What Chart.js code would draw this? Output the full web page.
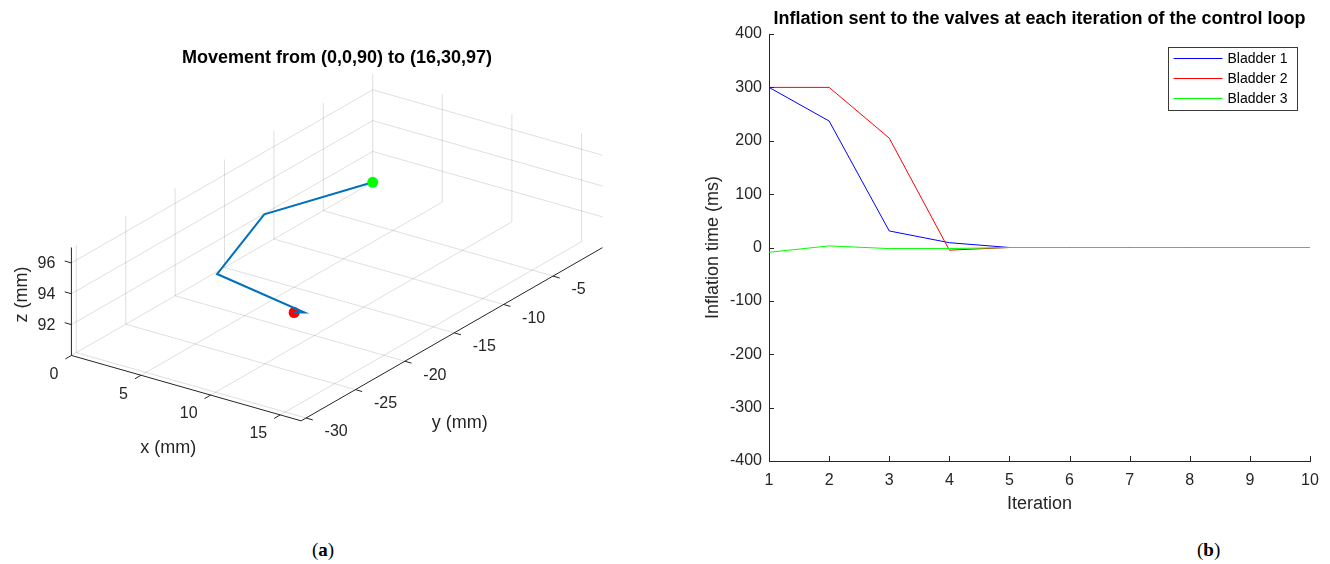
<!DOCTYPE html>
<html><head><meta charset="utf-8">
<script src="https://cdn.jsdelivr.net/npm/chart.js@4.4.1/dist/chart.umd.min.js"></script>
<style>
html,body{margin:0;padding:0;background:#fff;width:1330px;height:564px;overflow:hidden;position:relative;}
#c3d{position:absolute;left:0;top:0;}
#c2d{position:absolute;left:690px;top:0;}
.cap{position:absolute;top:539px;font-family:"Liberation Serif","DejaVu Serif",serif;font-size:19px;line-height:22px;color:#000;}
</style></head><body>
<canvas id="c3d" width="680" height="520"></canvas>
<canvas id="c2d" width="640" height="530"></canvas>
<div class="cap" style="left:312px">(<b>a</b>)</div>
<div class="cap" style="left:1197px">(<b>b</b>)</div>
<script>
// ---------- data: (a) 3D movement ----------
const xLimits = [0, 16.5];
const yLimits = [-30.5, 0];
const zLimits = [90, 97];
const xTicks = [0, 5, 10, 15];
const yTicks = [-30, -25, -20, -15, -10, -5];
const zTicks = [92, 94, 96];
const pathX = [0, 2.5, 8.05, 16.5, 16];
const pathY = [0, -14.5, -27.1, -30.15, -30.5];
const pathZ = [90, 93.9, 96.1, 96.9, 96.9];
const startPoint = [0, 0, 90];
const targetPoint = [16, -30.5, 96.9];
const title3d = 'Movement from (0,0,90) to (16,30,97)';

// ---------- data: (b) inflation ----------
const iterations = [1, 2, 3, 4, 5, 6, 7, 8, 9, 10];
const bladder1 = [300, 237, 31, 9, 0, 0, 0, 0, 0, 0];
const bladder2 = [300, 300, 205, -5, 0, 0, 0, 0, 0, 0];
const bladder3 = [-9, 3, -2, -2, 0, 0, 0, 0, 0, 0];
const seriesLabels = ['Bladder 1', 'Bladder 2', 'Bladder 3'];
const title2d = 'Inflation sent to the valves at each iteration of the control loop';

const FONT = '"Liberation Sans", Arial, Helvetica, sans-serif';
Chart.defaults.font.family = FONT;
const TXT = '#262626';

// ---------- 3D projection (view) ----------
const VIEW = { o: [67, 357.5], ex: [14.15, 4.05], ey: [10.04, -5.8], ez: [0, -15.75] };
function proj(x, y, z) {
  const dx = x - xLimits[0], dy = y - yLimits[0], dz = z - zLimits[0];
  return {
    x: VIEW.o[0] + dx * VIEW.ex[0] + dy * VIEW.ey[0] + dz * VIEW.ez[0],
    y: VIEW.o[1] + dx * VIEW.ex[1] + dy * VIEW.ey[1] + dz * VIEW.ez[1]
  };
}

const box3d = {
  id: 'box3d',
  beforeDatasetsDraw(chart) {
    const ctx = chart.ctx, sx = chart.scales.x, sy = chart.scales.y;
    const P = (x, y, z) => { const p = proj(x, y, z); return [sx.getPixelForValue(p.x), sy.getPixelForValue(p.y)]; };
    const seg = (a, b) => { ctx.beginPath(); ctx.moveTo(a[0], a[1]); ctx.lineTo(b[0], b[1]); ctx.stroke(); };
    const [x0, x1] = xLimits, [y0, y1] = yLimits, [z0, z1] = zLimits;
    ctx.save();
    // grid
    ctx.strokeStyle = 'rgba(38,38,38,0.15)';
    ctx.lineWidth = 1;
    xTicks.forEach(t => { seg(P(t, y0, z0), P(t, y1, z0)); seg(P(t, y1, z0), P(t, y1, z1)); });
    yTicks.forEach(t => { seg(P(x0, t, z0), P(x1, t, z0)); seg(P(x0, t, z0), P(x0, t, z1)); });
    zTicks.forEach(t => { seg(P(x0, y0, t), P(x0, y1, t)); seg(P(x0, y1, t), P(x1, y1, t)); });
    // axes
    ctx.strokeStyle = TXT;
    seg(P(x0, y0, z0), P(x1, y0, z0));
    seg(P(x1, y0, z0), P(x1, y1, z0));
    seg(P(x0, y0, z0), P(x0, y0, z1));
    // ticks (outward)
    const TL = 7;
    const unit = v => { const l = Math.hypot(v[0], v[1]); return [v[0] / l, v[1] / l]; };
    const ux = unit(VIEW.ex), uy = unit(VIEW.ey);
    xTicks.forEach(t => { const a = P(t, y0, z0); seg(a, [a[0] - uy[0] * TL, a[1] - uy[1] * TL]); });
    yTicks.forEach(t => { const a = P(x1, t, z0); seg(a, [a[0] + ux[0] * TL, a[1] + ux[1] * TL]); });
    zTicks.forEach(t => { const a = P(x0, y0, t); seg(a, [a[0] - ux[0] * TL, a[1] - ux[1] * TL]); });
    // tick labels
    ctx.fillStyle = TXT;
    ctx.font = '16px ' + FONT;
    ctx.textBaseline = 'middle';
    ctx.textAlign = 'right';
    xTicks.forEach(t => { const a = P(t, y0, z0); ctx.fillText(String(t), a[0] - 13, a[1] + 19); });
    ctx.textAlign = 'left';
    yTicks.forEach(t => { const a = P(x1, t, z0); ctx.fillText(String(t), a[0] + 18.5, a[1] + 14); });
    ctx.textAlign = 'right';
    zTicks.forEach(t => { const a = P(x0, y0, t); ctx.fillText(String(t), a[0] - 16, a[1] + 0.5); });
    // axis labels
    ctx.font = '18px ' + FONT;
    ctx.textAlign = 'center';
    const xm = P((x0 + x1) / 2, y0, z0);
    ctx.fillText('x (mm)', xm[0] - 18, xm[1] + 60);
    const ym = P(x1, (y0 + y1) / 2, z0);
    ctx.fillText('y (mm)', ym[0] + 8, ym[1] + 89);
    const zm = P(x0, y0, (z0 + z1) / 2);
    ctx.save();
    ctx.translate(zm[0] - 49, zm[1] - 7);
    ctx.rotate(-Math.PI / 2);
    ctx.fillText('z (mm)', 0, 0);
    ctx.restore();
    // title
    ctx.fillStyle = '#000';
    ctx.font = 'bold 18px ' + FONT;
    ctx.fillText(title3d, 337, 58);
    ctx.restore();
  }
};

const toXY = (xs, ys, zs) => xs.map((v, i) => proj(v, ys[i], zs[i]));

new Chart(document.getElementById('c3d'), {
  type: 'scatter',
  data: {
    datasets: [
      { label: 'target', data: [proj(...targetPoint)], pointRadius: 5.5, pointBackgroundColor: '#ff0000', pointBorderWidth: 0, borderWidth: 0, order: 3 },
      { label: 'path', data: toXY(pathX, pathY, pathZ), showLine: true, borderColor: '#0072BD', borderWidth: 2, pointRadius: 0, tension: 0, order: 2 },
      { label: 'start', data: [proj(...startPoint)], pointRadius: 5.5, pointBackgroundColor: '#00ff00', pointBorderWidth: 0, borderWidth: 0, order: 1 }
    ]
  },
  options: {
    responsive: false, animation: false, devicePixelRatio: 1,
    layout: { padding: 0 },
    plugins: { legend: { display: false }, tooltip: { enabled: false }, title: { display: false } },
    scales: {
      x: { type: 'linear', min: 0, max: 680, display: false },
      y: { type: 'linear', min: 0, max: 520, reverse: true, display: false }
    }
  },
  plugins: [box3d]
});

// ---------- (b) ----------
const deco2d = {
  id: 'deco2d',
  afterDraw(chart) {
    const ctx = chart.ctx, a = chart.chartArea, sx = chart.scales.x, sy = chart.scales.y;
    ctx.save();
    // inward ticks
    ctx.strokeStyle = TXT; ctx.lineWidth = 1;
    sx.ticks.forEach(t => { const px = Math.round(sx.getPixelForValue(t.value)) + 0.5; ctx.beginPath(); ctx.moveTo(px, a.bottom); ctx.lineTo(px, a.bottom - 5); ctx.stroke(); });
    sy.ticks.forEach(t => { const py = Math.round(sy.getPixelForValue(t.value)) + 0.5; ctx.beginPath(); ctx.moveTo(a.left, py); ctx.lineTo(a.left + 5, py); ctx.stroke(); });
    // title
    ctx.fillStyle = '#000';
    ctx.font = 'bold 18px ' + FONT;
    ctx.textAlign = 'center'; ctx.textBaseline = 'middle';
    ctx.fillText(title2d, (a.left + a.right) / 2, 19);
    // legend
    const bw = 129, bh = 63, bx = a.right - 13.5 - bw, by = a.top + 12.5;
    ctx.fillStyle = '#fff';
    ctx.fillRect(bx, by, bw, bh);
    ctx.strokeStyle = '#3a3a3a';
    ctx.strokeRect(Math.round(bx) + 0.5, Math.round(by) + 0.5, bw, bh);
    ctx.font = '14px ' + FONT;
    ctx.textAlign = 'left';
    chart.data.datasets.forEach((ds, i) => {
      const yy = by + 11.8 + i * 20;
      ctx.strokeStyle = ds.borderColor; ctx.lineWidth = 1;
      ctx.beginPath(); ctx.moveTo(bx + 6, Math.round(yy) + 0.5); ctx.lineTo(bx + 55, Math.round(yy) + 0.5); ctx.stroke();
      ctx.fillStyle = '#000';
      ctx.fillText(ds.label, bx + 60, yy + 0.5);
    });
    ctx.restore();
  }
};

const mk = arr => iterations.map((it, i) => ({ x: it, y: arr[i] }));
new Chart(document.getElementById('c2d'), {
  type: 'line',
  data: {
    datasets: [
      { label: seriesLabels[0], data: mk(bladder1), borderColor: '#0000ff', borderWidth: 1, pointRadius: 0, tension: 0, order: 3 },
      { label: seriesLabels[1], data: mk(bladder2), borderColor: '#ff0000', borderWidth: 1, pointRadius: 0, tension: 0, order: 2 },
      { label: seriesLabels[2], data: mk(bladder3), borderColor: '#00ff00', borderWidth: 1, pointRadius: 0, tension: 0, order: 1 }
    ]
  },
  options: {
    responsive: false, animation: false, devicePixelRatio: 1,
    layout: { padding: { left: 0, right: 20, top: 34, bottom: 9 } },
    plugins: { legend: { display: false }, tooltip: { enabled: false }, title: { display: false } },
    scales: {
      x: {
        type: 'linear', min: 1, max: 10,
        ticks: { stepSize: 1, font: { size: 16 }, color: TXT, padding: 10, maxRotation: 0, autoSkip: false },
        grid: { display: false, drawTicks: false },
        border: { display: true, color: TXT, width: 1 },
        title: { display: true, text: 'Iteration', font: { size: 18 }, color: TXT, padding: { top: 0, bottom: 6 } },
        afterFit(s) { s.height = 60; }
      },
      y: {
        type: 'linear', min: -400, max: 400,
        ticks: { stepSize: 100, font: { size: 16 }, color: TXT, padding: 7 },
        grid: { display: false, drawTicks: false },
        border: { display: true, color: TXT, width: 1 },
        title: { display: true, text: 'Inflation time (ms)', font: { size: 18 }, color: TXT, padding: { top: 12, bottom: 0 } },
        afterFit(s) { s.width = 79; }
      }
    }
  },
  plugins: [deco2d]
});
</script>
</body></html>
